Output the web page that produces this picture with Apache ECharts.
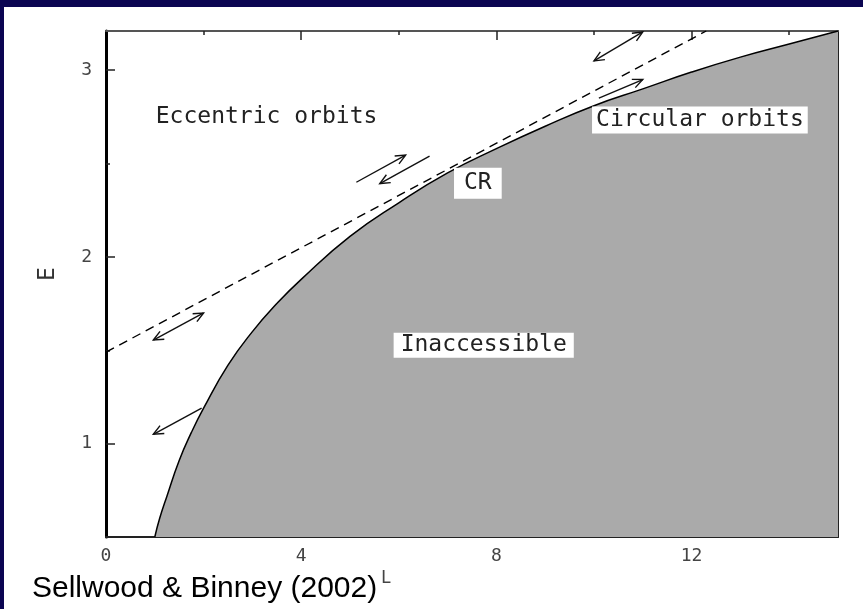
<!DOCTYPE html>
<html><head><meta charset="utf-8">
<script src="https://cdn.jsdelivr.net/npm/echarts@6/dist/echarts.min.js"></script>
<style>html,body{margin:0;padding:0;background:#fff}#c{width:863px;height:609px}</style>
</head><body><div id="c"></div>
<script>
// Circular-orbit boundary E_c(L)
const curveL = [1.0, 1.1, 1.25, 1.5, 1.75, 2.0, 2.5, 3.0, 3.5, 4.0, 5.0, 6.0, 7.0, 8.0, 9.0, 10.0, 11.0, 12.0, 13.0, 14.0, 15.0];
const curveE = [0.5, 0.6, 0.72, 0.91, 1.06, 1.19, 1.42, 1.60, 1.75, 1.88, 2.11, 2.29, 2.45, 2.58, 2.70, 2.81, 2.90, 2.99, 3.07, 3.14, 3.21];
// dashed tangent line at corotation
const tangentL = [0, 12.3];
const tangentE = [1.49, 3.21];
// arrows: start point, end point, heads [atStart, atEnd]
const arrowsStart = [[10.0, 3.05], [10.1, 2.85], [5.13, 2.40], [6.63, 2.54], [0.97, 1.555], [1.96, 1.19]];
const arrowsEnd   = [[11.0, 3.205], [11.0, 2.95], [6.14, 2.545], [5.61, 2.393], [2.0, 1.70], [0.97, 1.05]];
const arrowsHeads = [[1, 1], [0, 1], [0, 1], [0, 1], [1, 1], [0, 1]];
// region labels
const labelTexts = ['Eccentric orbits', 'Circular orbits', 'CR', 'Inaccessible'];
const labelL = [3.29, 12.17, 7.62, 7.74];
const labelE = [2.75, 2.734, 2.395, 1.527];
const labelBoxed = [false, true, true, true];
// axis ticks
const xLabelValues = [0, 4, 8, 12];
const xMajorTicks = [4, 8, 12];
const xMinorTicks = [2, 6, 10, 14];
const yLabelValues = [1, 2, 3];
const yMinorTicks = [1.5, 2.5];

const MONO = 'DejaVu Sans Mono';
const chart = echarts.init(document.getElementById('c'), null, {renderer: 'canvas'});

const curveData = curveL.map((l, i) => [l, curveE[i]]);
const tangentData = tangentL.map((l, i) => [l, tangentE[i]]);
const arrowData = arrowsStart.map((s, i) => [s[0], s[1], arrowsEnd[i][0], arrowsEnd[i][1], arrowsHeads[i][0], arrowsHeads[i][1]]);
const boxPads = [[0, 0], [2, 4], [4, 10], [1, 7]];
const labelData = labelTexts.map((t, i) => ({
  name: t,
  value: [labelL[i], labelE[i]],
  label: {
    backgroundColor: labelBoxed[i] ? '#ffffff' : 'transparent',
    padding: [boxPads[i][0], boxPads[i][1], boxPads[i][0], boxPads[i][1]]
  }
}));

function mkX(pos, ticks, len, showLabel, lineShow, lineW, lineColor) {
  return {
    type: 'value', min: 0, max: 15, position: pos, gridIndex: 0,
    axisLine: {show: lineShow, onZero: false, lineStyle: {color: lineColor, width: lineW}},
    axisTick: {show: true, inside: true, length: len, customValues: ticks, lineStyle: {color: '#222', width: 1.5}},
    axisLabel: showLabel ? {show: true, customValues: xLabelValues, fontFamily: MONO, fontSize: 18, color: '#444', margin: 10} : {show: false},
    splitLine: {show: false}
  };
}
function mkY(pos, ticks, len, showLabel, lineShow, lineW, lineColor, name) {
  const ax = {
    type: 'value', min: 0.5, max: 3.21, position: pos, gridIndex: 0,
    axisLine: {show: lineShow, onZero: false, lineStyle: {color: lineColor, width: lineW}},
    axisTick: {show: true, inside: true, length: len, customValues: ticks, lineStyle: {color: '#222', width: 1.5}},
    axisLabel: showLabel ? {show: true, customValues: yLabelValues, fontFamily: MONO, fontSize: 18, color: '#444', margin: 14} : {show: false},
    splitLine: {show: false}
  };
  if (name) {
    ax.name = name; ax.nameLocation = 'middle'; ax.nameRotate = 90; ax.nameGap = 46;
    ax.nameTextStyle = {fontFamily: MONO, fontSize: 23, color: '#333', padding: [0, 0, 0, 20]};
  }
  return ax;
}

function arrowHead(tip, from) {
  const ang = Math.atan2(tip[1] - from[1], tip[0] - from[0]);
  const len = 11, a = 0.42;
  return {
    type: 'polyline',
    shape: {points: [
      [tip[0] - len * Math.cos(ang - a), tip[1] - len * Math.sin(ang - a)],
      tip,
      [tip[0] - len * Math.cos(ang + a), tip[1] - len * Math.sin(ang + a)]
    ]},
    style: {stroke: '#111', lineWidth: 1.4, fill: null}
  };
}

chart.setOption({
  backgroundColor: '#ffffff',
  animation: false,
  grid: {left: 106, right: 25, top: 31, bottom: 72, containLabel: false, outerBoundsMode: 'none'},
  xAxis: [
    mkX('bottom', xMinorTicks, 4, true, true, 2, '#222'),
    mkX('bottom', xMajorTicks, 9, false, false, 2, '#222'),
    mkX('top', xMinorTicks, 4, false, true, 2, '#555'),
    mkX('top', xMajorTicks, 9, false, false, 2, '#555')
  ],
  yAxis: [
    mkY('left', yMinorTicks, 4, false, true, 3, '#000', 'E'),
    mkY('left', yLabelValues, 9, true, false, 3, '#000'),
    mkY('right', yLabelValues.concat(yMinorTicks), 9, false, true, 2, '#222')
  ],
  series: [
    {
      type: 'line', xAxisIndex: 0, yAxisIndex: 0, data: curveData, smooth: 0.5,
      symbol: 'none', lineStyle: {color: '#000', width: 1.5},
      areaStyle: {color: '#aaaaaa', opacity: 1, origin: 'start'}, z: 3
    },
    {
      type: 'line', xAxisIndex: 0, yAxisIndex: 0, data: tangentData,
      symbol: 'none', lineStyle: {color: '#000', width: 1.4, type: [9, 6]}, z: 2
    },
    {
      type: 'custom', xAxisIndex: 0, yAxisIndex: 0, data: arrowData, z: 5,
      encode: {x: [0, 2], y: [1, 3]},
      renderItem: function (params, api) {
        const p1 = api.coord([api.value(0), api.value(1)]);
        const p2 = api.coord([api.value(2), api.value(3)]);
        const children = [{type: 'line', shape: {x1: p1[0], y1: p1[1], x2: p2[0], y2: p2[1]}, style: {stroke: '#111', lineWidth: 1.4}}];
        if (api.value(4)) children.push(arrowHead(p1, p2));
        if (api.value(5)) children.push(arrowHead(p2, p1));
        return {type: 'group', children: children};
      }
    },
    {
      type: 'scatter', xAxisIndex: 0, yAxisIndex: 0, data: labelData, z: 6,
      symbolSize: 0, itemStyle: {color: 'rgba(0,0,0,0)'},
      label: {show: true, position: 'inside', formatter: '{b}', fontFamily: MONO, fontSize: 23, lineHeight: 23, color: '#222', opacity: 1}
    }
  ],
  graphic: [
    {type: 'rect', left: 0, top: 0, shape: {width: 863, height: 7}, style: {fill: '#0b0552'}, z: 100},
    {type: 'rect', left: 0, top: 0, shape: {width: 4, height: 609}, style: {fill: '#0b0552'}, z: 100},
    {type: 'text', left: 32, top: 574, style: {text: 'Sellwood & Binney (2002)', font: '30px "Liberation Sans", Arial, sans-serif', fill: '#000'}, z: 100},
    {type: 'text', left: 381, top: 570, style: {text: 'L', font: '17px "DejaVu Sans Mono", monospace', fill: '#444'}, z: 100}
  ]
});
</script></body></html>
